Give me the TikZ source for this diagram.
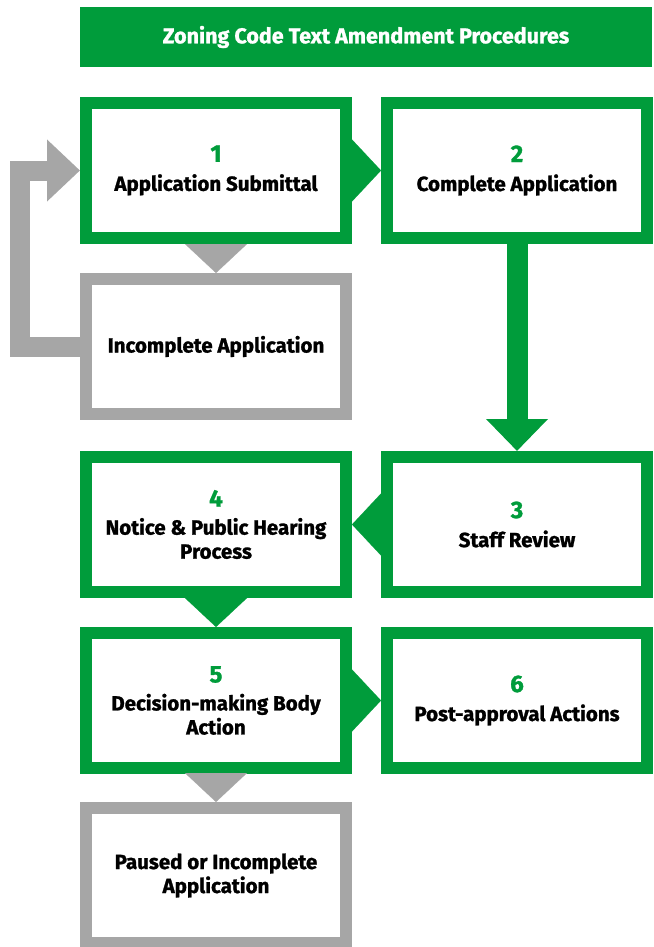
\documentclass[tikz,border=0pt]{standalone}
\usepackage{fontspec}
\setmainfont{Fira Sans}[BoldFeatures={FakeBold=1.2}]
\usetikzlibrary{arrows.meta,positioning}
\definecolor{zcGreen}{RGB}{0,156,59}
\definecolor{zcGray}{RGB}{166,166,166}
\newcommand{\stagenum}[1]{{\color{zcGreen}\fontsize{24}{24}\selectfont #1}}

\begin{document}
\begin{tikzpicture}[
    x=1pt, y=-1pt,
    stage/.style={draw=zcGreen, line width=12pt, fill=white, align=center, inner sep=0pt,
      minimum width=260pt, minimum height=135pt, font=\bfseries\fontsize{20.5}{24}\selectfont},
    halt/.style={stage, draw=zcGray},
    title/.style={fill=zcGreen, text=white, minimum width=572pt, minimum height=60pt, font=\bfseries\fontsize{21.5}{21.5}\selectfont},
    gostep/.style={-{Triangle[length=29pt,width=62pt]}, zcGreen, line width=0.1pt},
    backstep/.style={gostep, zcGray},
    bigarrow/.style={-{Triangle[length=32pt,width=60pt]}, zcGreen, line width=21pt},
    looparrow/.style={-{Triangle[length=33pt,width=60pt]}, zcGray, line width=20pt}
  ]
  \useasboundingbox (0,0) rectangle (653,947);
  \node[title] (head) at (366,37) {Zoning Code Text Amendment Procedures};

  \node[stage] (submit) at (216,170.5) {\stagenum{1}\\[5pt]Application Submittal};
  \node[stage, right=29pt of submit] (complete) {\stagenum{2}\\[5pt]Complete Application};
  \node[halt, below=29pt of submit] (incomplete) {Incomplete Application};
  \node[stage, below=207pt of complete] (review) {\stagenum{3}\\[5pt]Staff Review};
  \node[stage, below=31pt of incomplete] (hearing) {\stagenum{4}\\[4pt]Notice \& Public Hearing\\Process};
  \node[stage, below=29pt of hearing] (decision) {\stagenum{5}\\[4pt]Decision-making Body\\Action};
  \node[stage, right=29pt of decision] (postapp) {\stagenum{6}\\[5pt]Post-approval Actions};
  \node[halt, below=28pt of decision] (paused) {Paused or Incomplete\\Application};

  % flow between the stages
  \draw[gostep] (submit) -- (complete);
  \draw[backstep] (submit) -- (incomplete);
  \draw[looparrow] (incomplete.west) -- ++(-60,0) |- (submit.west);
  \draw[bigarrow] (complete) -- (review);
  \draw[gostep] (review) -- (hearing);
  \draw[gostep] (hearing) -- (decision);
  \draw[gostep] (decision) -- (postapp);
  \draw[backstep] (decision) -- (paused);
\end{tikzpicture}
\end{document}
